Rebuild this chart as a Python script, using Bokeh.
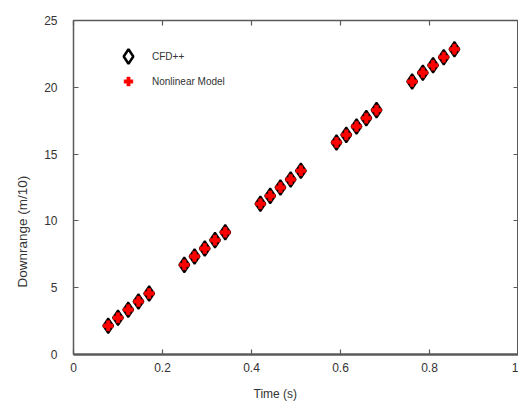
from bokeh.plotting import figure
from bokeh.models import (ColumnDataSource, Range1d, LinearAxis, FixedTicker,
                          Legend, LegendItem, Title)
from bokeh.embed import file_html
from bokeh.resources import INLINE

# Downrange position (m/10) against time (s)
time_s = [0.078, 0.100, 0.123, 0.146, 0.170,
          0.249, 0.272, 0.295, 0.318, 0.341,
          0.420, 0.442, 0.465, 0.488, 0.511,
          0.591, 0.613, 0.636, 0.658, 0.681,
          0.761, 0.785, 0.808, 0.832, 0.856]
cfd_downrange = [2.15, 2.75, 3.35, 3.97, 4.57,
                 6.71, 7.34, 7.93, 8.56, 9.15,
                 11.28, 11.87, 12.50, 13.10, 13.75,
                 15.87, 16.44, 17.07, 17.69, 18.29,
                 20.43, 21.09, 21.65, 22.25, 22.85]
model_downrange = [2.15, 2.75, 3.35, 3.97, 4.57,
                   6.71, 7.34, 7.93, 8.56, 9.15,
                   11.28, 11.87, 12.50, 13.10, 13.75,
                   15.87, 16.44, 17.07, 17.69, 18.29,
                   20.43, 21.09, 21.65, 22.25, 22.85]
x_ticks = [0, 0.2, 0.4, 0.6, 0.8, 1]
y_ticks = [0, 5, 10, 15, 20, 25]

FONT = "Liberation Sans"
AXIS_GREY = "#5a5a5a"
TEXT_GREY = "#333333"

p = figure(width=518, height=411, output_backend="svg", toolbar_location=None,
           x_range=Range1d(0, 1), y_range=Range1d(0, 25),
           x_axis_type=None, y_axis_type=None,
           min_border_left=73, min_border_right=0,
           min_border_top=20, min_border_bottom=57)
p.grid.visible = False
p.outline_line_color = AXIS_GREY
p.outline_line_width = 1
p.background_fill_color = "white"
p.border_fill_color = "white"


def make_axis(ticks, labelled):
    ax = LinearAxis(ticker=FixedTicker(ticks=ticks))
    ax.axis_line_color = AXIS_GREY
    ax.axis_line_width = 1.5
    ax.major_tick_line_color = AXIS_GREY
    ax.major_tick_line_width = 1.2
    ax.major_tick_in = 5
    ax.major_tick_out = 0
    ax.minor_tick_line_color = None
    ax.major_label_text_font = FONT
    ax.major_label_text_font_size = "12px"
    ax.major_label_text_color = TEXT_GREY
    if not labelled:
        ax.major_label_text_font_size = "0px"
        ax.major_label_text_color = None
    return ax


xb = make_axis(x_ticks, True)
xb.major_label_standoff = 8
xb.axis_line_width = 2.5
p.add_layout(xb, "below")

yl = make_axis(y_ticks, True)
yl.major_label_standoff = 16
p.add_layout(yl, "left")

p.add_layout(make_axis(x_ticks, False), "above")
p.add_layout(make_axis(y_ticks, False), "right")

# axis titles
p.add_layout(Title(text="Time (s)", align="left", offset=180, standoff=21,
                   text_font=FONT, text_font_size="12px", text_font_style="normal",
                   text_color=TEXT_GREY), "below")
p.add_layout(Title(text="Downrange (m/10)", align="left", offset=67, standoff=23,
                   text_font=FONT, text_font_size="13.5px", text_font_style="normal",
                   text_color=TEXT_GREY), "left")

src = ColumnDataSource(dict(t=time_s, cfd=cfd_downrange, model=model_downrange))

p.scatter("t", "cfd", source=src, marker="diamond", size=15,
          fill_color="#ff0000", line_color="black", line_width=2)
p.scatter("t", "model", source=src, marker="plus", size=10,
          fill_color="#ff0000", line_color="#e00000", line_width=0.5)

# legend keys (single point kept outside the visible range)
key_src = ColumnDataSource(dict(t=[-1.0], cfd=[-1.0], model=[-1.0]))
key_cfd = p.scatter("t", "cfd", source=key_src, marker="diamond",
                    fill_color="white", line_color="black", line_width=2.5)
key_model = p.scatter("t", "model", source=key_src, marker="plus",
                      fill_color="#ff0000", line_color="#ff0000", line_width=0.5)

legend_style = dict(orientation="vertical", border_line_color=None,
                    background_fill_alpha=0, padding=0, margin=0,
                    label_text_font=FONT, label_text_font_size="10px",
                    label_text_color=TEXT_GREY)

legend_cfd = Legend(items=[LegendItem(label="CFD++", renderers=[key_cfd])],
                    location=(37, 280), glyph_width=36, glyph_height=36,
                    label_standoff=6, **legend_style)
legend_model = Legend(items=[LegendItem(label="Nonlinear Model", renderers=[key_model])],
                      location=(44, 262), glyph_width=22, glyph_height=22,
                      label_standoff=13, **legend_style)
p.add_layout(legend_cfd, "center")
p.add_layout(legend_model, "center")

open("out.html", "w").write(file_html(p, INLINE))
